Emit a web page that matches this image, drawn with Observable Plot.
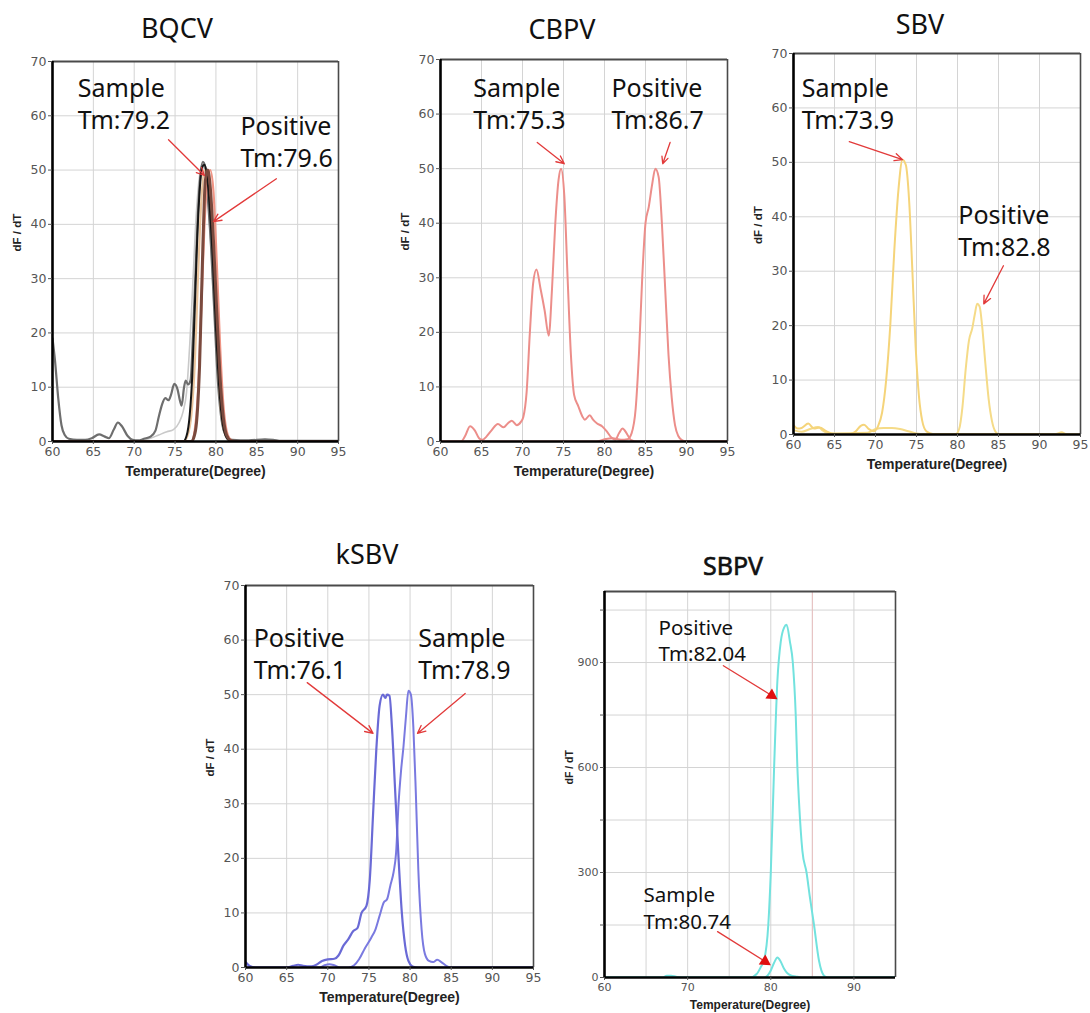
<!DOCTYPE html>
<html><head><meta charset="utf-8">
<script src="https://cdn.jsdelivr.net/npm/d3@7"></script>
<script src="https://cdn.jsdelivr.net/npm/@observablehq/plot@0.6"></script>
<style>
html,body{margin:0;padding:0;background:#fff}
#root{position:relative;width:1090px;height:1013px;overflow:hidden;background:#fff}
.panel{position:absolute}
.title{position:absolute;font-family:"Noto Sans",sans-serif;font-size:27px;color:#111;transform:translate(-50%,-50%);white-space:nowrap;line-height:1}
</style></head><body><div id="root"></div>
<script>
// ---------- tick labels ----------
const xTicks = [60, 65, 70, 75, 80, 85, 90, 95];
const xTicksSBPV = [60, 70, 80, 90];
const yTicks = [0, 10, 20, 30, 40, 50, 60, 70];
const yTicksSBPV = [0, 300, 600, 900];
const yMinorSBPV = [150, 450, 750, 1050];

// ---------- BQCV series [temperature, dF/dT] ----------
const bqcvDarkGray = [[60,19],[60.3,15],[60.7,8],[61.1,3],[61.5,1.2],[62,0.5],[63,0.3],[64,0.3],[64.8,0.6],[65.7,1.3],[66.4,0.9],[66.9,0.6],[67.5,2.2],[68,3.5],[68.5,2.8],[69.2,1],[69.8,0.3],[70.5,0.2],[71.2,0.5],[72,0.9],[72.6,2],[73,4.5],[73.4,6.8],[73.8,8],[74.2,7.6],[74.5,8.6],[74.9,10.6],[75.3,9.6],[75.6,7.5],[75.8,6.6],[76.1,10],[76.3,11.2],[76.6,10.5],[76.9,11.3],[77.2,20],[77.5,31],[77.8,42],[78.1,49],[78.4,51.5],[78.7,50.5],[79,45],[79.4,36],[79.8,24],[80.2,12],[80.6,5],[81,1.8],[81.5,0.6],[82,0.3],[84,0.2],[86,0.4],[87,0.3],[88,0.1],[95,0.1]];
const bqcvLightGray = [[60,0],[70,0],[71,0.2],[72,0.6],[73,1.2],[74,1.8],[74.8,2.2],[75.5,3.5],[76,5.6],[76.4,9],[76.8,18],[77.2,30],[77.6,42],[78,49],[78.3,51],[78.6,50],[79,45],[79.5,33],[80,18],[80.5,7],[81,2],[81.5,0.5],[82,0.1],[95,0]];
const bqcvBlack = [[60,0],[76,0],[76.4,1],[76.8,5],[77.1,12],[77.4,24],[77.7,37],[78,46],[78.3,50.5],[78.6,51],[78.9,49],[79.2,44],[79.6,34],[80,21],[80.4,10],[80.8,3.5],[81.2,1],[81.6,0.2],[82,0],[95,0]];
const bqcvTan = [[60,0],[76,0],[76.5,1],[77,5],[77.4,14],[77.8,30],[78.2,44],[78.6,50],[79,49],[79.4,42],[79.8,30],[80.2,16],[80.6,6],[81,2],[81.5,0.4],[82,0],[95,0]];
const bqcvSalmon = [[60,0],[77,0],[77.4,2],[77.8,9],[78.2,24],[78.6,40],[79,48.5],[79.3,50],[79.7,46],[80.1,33],[80.5,18],[80.9,7],[81.3,2],[81.7,0.5],[82.2,0],[95,0]];
const bqcvBrown = [[60,0],[77,0],[77.5,2],[78,14],[78.4,36],[78.7,48],[79,50],[79.3,47],[79.7,37],[80.1,24],[80.5,12],[80.9,4.5],[81.3,1.2],[81.8,0.2],[82.5,0],[95,0]];

// ---------- CBPV ----------
const cbpvSample = [[60,0],[62.5,0],[63,1],[63.6,2.8],[64.2,2],[64.7,0.6],[65.1,0.3],[65.6,0.9],[66.2,2],[67,3.2],[67.7,2.6],[68.2,3.3],[68.7,3.8],[69.3,3],[69.8,3.6],[70.1,4.5],[70.5,9],[70.9,20],[71.3,29],[71.7,31.5],[72.2,28],[72.7,24],[73.2,19.4],[73.6,28],[74,40],[74.4,48],[74.7,50],[75.1,45],[75.5,30],[75.9,16],[76.3,8.5],[76.8,6.5],[77.3,4.6],[77.6,4],[78.2,4.8],[78.6,4],[79.1,3.3],[79.7,2.8],[80.3,1.8],[80.8,0.8],[81.3,0.3],[81.8,1.6],[82.2,2.4],[82.7,1.5],[83.2,0.3],[84,0],[95,0]];
const cbpvPositive = [[60,0],[79,0],[80,0.4],[81,0.6],[82,0.3],[82.8,0.4],[83.3,1.5],[83.8,6],[84.2,16],[84.6,30],[85,40],[85.4,43],[85.8,47],[86.2,50],[86.6,48.5],[87,40],[87.4,28],[87.8,16],[88.2,8],[88.6,3],[89,1],[89.5,0.2],[90,0],[95,0]];

// ---------- SBV ----------
const sbvSample = [[60,1.7],[60.5,1.1],[61,1.2],[61.8,2],[62.5,1.1],[63.2,1.3],[64,0.6],[65,0.1],[67,0.1],[67.6,0.6],[68.2,1.6],[68.6,1.8],[69.2,1],[69.8,0.6],[70.3,1.5],[70.8,4],[71.3,10],[71.8,20],[72.3,34],[72.8,45],[73.3,50.5],[73.7,49.5],[74.1,43],[74.5,30],[74.9,16],[75.3,7],[75.7,2.5],[76.2,0.6],[77,0.1],[95,0]];
const sbvPositive = [[60,0.8],[61,0.5],[62,1],[63,1.4],[63.5,0.8],[64.5,0.2],[69,0.3],[70,1],[71,1.2],[72,1.2],[73,1],[74,0.6],[75,0.2],[76,0.1],[79.8,0.1],[80.2,1],[80.6,5],[81,12],[81.4,17.3],[81.8,19.5],[82.1,22],[82.4,24],[82.7,23.5],[83,20],[83.4,13],[83.8,6.5],[84.2,2.5],[84.6,0.6],[85,0.1],[92,0.1],[92.7,0.4],[93.2,0.1],[95,0]];

// ---------- kSBV ----------
const ksbvPositive = [[60,1],[60.5,0.3],[61.2,0],[65,0],[65.8,0.3],[66.4,0.5],[67,0.3],[68,0.2],[68.6,0.5],[69.3,1.2],[70,1.5],[70.8,1.6],[71.3,2.2],[71.9,4],[72.5,5.2],[73.1,6.7],[73.6,7.2],[74.1,10],[74.7,11.3],[75.1,16],[75.5,28],[75.9,40],[76.3,48],[76.7,50],[77,49.4],[77.2,50],[77.5,49.8],[77.8,44],[78.2,32],[78.6,20],[79,10],[79.4,4],[79.8,1.2],[80.3,0.2],[81,0],[95,0]];
const ksbvSample = [[60,0],[69,0],[69.6,0.4],[70.2,0.6],[70.8,0.4],[71.5,0],[72.5,0],[73.2,0.4],[73.8,1.5],[74.5,3.5],[75.3,5.5],[75.8,7],[76.3,9.5],[76.8,11.9],[77.2,12.5],[77.6,15],[78,17.5],[78.3,21],[78.6,30],[78.9,36],[79.2,40.5],[79.5,46],[79.8,50.7],[80.1,50],[80.4,44],[80.7,32],[81,18],[81.4,7],[81.8,2.5],[82.3,1.2],[82.8,1],[83.3,1.4],[83.8,1],[84.4,0.3],[85,0],[95,0]];

// ---------- SBPV ----------
const sbpvPositive = [[60,0],[67,0],[67.5,5],[68,5],[68.6,2],[69.2,0],[77.5,0],[78.3,10],[78.8,30],[79.2,50],[79.7,150],[80,300],[80.4,600],[80.8,850],[81.2,960],[81.6,1000],[81.9,1008],[82.3,960],[82.65,900],[83,750],[83.2,600],[83.4,500],[83.8,362],[84.3,300],[84.7,230],[85.2,150],[85.8,48],[86.4,5],[86.8,0],[95,0]];
const sbpvSample = [[60,0],[79.2,0],[79.6,5],[80,20],[80.4,42],[80.8,57],[81.2,45],[81.6,25],[82,12],[82.5,5],[83,3],[83.5,0.5],[84,0],[95,0]];

// ---------- annotations (data coordinates) ----------
const bqcvLabels = [{x:63.1,y:67.6,text:"Sample\nTm:79.2"},{x:83.0,y:60.6,text:"Positive\nTm:79.6"}];
const bqcvArrows = [{x1:74.2,y1:55.6,x2:78.6,y2:49.0},{x1:87.4,y1:48.4,x2:79.7,y2:40.5}];
const cbpvLabels = [{x:64.0,y:67.3,text:"Sample\nTm:75.3"},{x:80.85,y:67.3,text:"Positive\nTm:86.7"}];
const cbpvArrows = [{x1:71.8,y1:54.8,x2:75.1,y2:50.9},{x1:88.0,y1:54.8,x2:87.1,y2:50.9}];
const sbvLabels = [{x:61.0,y:66.2,text:"Sample\nTm:73.9"},{x:80.1,y:42.8,text:"Positive\nTm:82.8"}];
const sbvArrows = [{x1:66.8,y1:53.8,x2:73.3,y2:50.5},{x1:85.6,y1:31.0,x2:83.2,y2:24.0}];
const ksbvLabels = [{x:61.0,y:62.9,text:"Positive\nTm:76.1"},{x:81.0,y:62.9,text:"Sample\nTm:78.9"}];
const ksbvArrows = [{x1:67.5,y1:52.2,x2:75.5,y2:42.9},{x1:86.7,y1:50.2,x2:80.9,y2:42.9}];
const sbpvLabels = [{x:66.5,y:1034,text:"Positive\nTm:82.04"},{x:64.7,y:269,text:"Sample\nTm:80.74"}];
const sbpvArrows = [{x1:74.3,y1:891,x2:80.1,y2:806},{x1:73.6,y1:131,x2:79.3,y2:46}];

const titles = ["BQCV", "CBPV", "SBV", "kSBV", "SBPV"];
const xLabel = "Temperature(Degree)";
const yLabel = "dF / dT";

// ---------- panel layout ----------
const panels = [
  {title:titles[0], box:[52,338,61,441], tpos:[177,27], yMax:70, yT:yTicks, yG:[10,20,30,40,50,60], xT:xTicks,
   series:[[bqcvLightGray,"#c9c9c9",1.6],[bqcvDarkGray,"#6e6e6e",2.2],[bqcvSalmon,"#f09585",2.2],[bqcvTan,"#e8c29a",2.2],[bqcvBlack,"#161616",2],[bqcvBrown,"#7a4a3e",3]],
   labels:bqcvLabels, arrows:bqcvArrows, fs:25, lh:1.28},
  {title:titles[1], box:[440,727,59,441], tpos:[562,28], yMax:70, yT:yTicks, yG:[10,20,30,40,50,60], xT:xTicks,
   series:[[cbpvPositive,"#ec8e8a",2],[cbpvSample,"#ec8e8a",2]],
   labels:cbpvLabels, arrows:cbpvArrows, fs:25, lh:1.28},
  {title:titles[2], box:[793,1080,53,434], tpos:[920,23], yMax:70, yT:yTicks, yG:[10,20,30,40,50,60], xT:xTicks,
   series:[[sbvPositive,"#f5db88",2],[sbvSample,"#f5d47a",2]],
   labels:sbvLabels, arrows:sbvArrows, fs:25, lh:1.28},
  {title:titles[3], box:[245,533,585,967], tpos:[367,553], yMax:70, yT:yTicks, yG:[10,20,30,40,50,60], xT:xTicks,
   series:[[ksbvSample,"#7a7ae0",2],[ksbvPositive,"#6a6ad6",2.2]],
   labels:ksbvLabels, arrows:ksbvArrows, fs:25, lh:1.28},
  {title:titles[4], box:[604,895,591,977], tpos:[733,565], yMax:1103, yT:yTicksSBPV, yG:[150,300,450,600,750,900,1050], xT:xTicksSBPV, minor:yMinorSBPV, red85:true,
   series:[[sbpvPositive,"#72e2de",2],[sbpvSample,"#72e2de",2]],
   labels:sbpvLabels, arrows:sbpvArrows, fs:20.5, lh:1.3, small:true, tri:true}
];

const root = document.getElementById("root");
const mL = 60, mR = 12, mT = 12, mB = 45;

for (const p of panels) {
  const [l, r, t, b] = p.box;
  const xG = [65, 70, 75, 80, 85, 90];
  const marks = [
    Plot.gridX(xG, {stroke: "#d4d4d4", strokeOpacity: 1, strokeWidth: 1}),
    Plot.gridY(p.yG, {stroke: "#d4d4d4", strokeOpacity: 1, strokeWidth: 1}),
  ];
  if (p.red85) marks.push(Plot.ruleX([85], {stroke: "#e9c0c0", strokeWidth: 1}));
  for (const [data, color, w] of p.series) {
    marks.push(Plot.line(data, {x: d => d[0], y: d => d[1], curve: "monotone-x", stroke: color, strokeWidth: w, clip: true}));
  }
  // frame
  marks.push(Plot.ruleY([p.yMax], {stroke: "#4a4a4a", strokeWidth: 2}));
  marks.push(Plot.ruleX([95], {stroke: "#4a4a4a", strokeWidth: 1.6}));
  marks.push(Plot.ruleX([60], {stroke: "#000", strokeWidth: 2.6}));
  marks.push(Plot.ruleY([0], {stroke: "#000", strokeWidth: 2.6}));
  // axes
  marks.push(Plot.axisX(p.xT, {tickSize: 3, tickPadding: 3}));
  marks.push(Plot.axisY(p.yT, {tickSize: 4, tickPadding: 2}));
  if (p.minor) marks.push(Plot.axisY(p.minor, {tickSize: 4, tickFormat: () => ""}));
  marks.push(Plot.text([xLabel], {text: d => d, frameAnchor: "bottom", dy: p.small ? 31 : 34, fontFamily: "Liberation Sans, Arial, sans-serif", fontWeight: "bold", fontSize: p.small ? 12 : 14, fill: "#222"}));
  marks.push(Plot.text([yLabel], {text: d => d, frameAnchor: "left", dx: -35, rotate: -90, fontFamily: "Liberation Sans, Arial, sans-serif", fontWeight: "bold", fontSize: p.small ? 10.5 : 11.5, fill: "#222"}));
  // annotations
  marks.push(Plot.arrow(p.arrows, {x1: "x1", y1: "y1", x2: "x2", y2: "y2", stroke: "#e23a3a", strokeWidth: 1.3, headLength: p.tri ? 0 : 10, headAngle: 50}));
  if (p.tri) {
    marks.push(Plot.dot(p.arrows, {x: "x2", y: "y2", symbol: "triangle", r: 4.5, fill: "#e01010", stroke: "none", rotate: 123}));
  }
  marks.push(Plot.text(p.labels, {x: "x", y: "y", text: "text", textAnchor: "start", lineAnchor: "top", fontSize: p.fs, lineHeight: p.lh, fontFamily: "Noto Sans, sans-serif", fill: "#111"}));

  const chart = Plot.plot({
    width: (r - l) + mL + mR,
    height: (b - t) + mT + mB,
    marginLeft: mL, marginRight: mR, marginTop: mT, marginBottom: mB,
    x: {domain: [60, 95], axis: null},
    y: {domain: [0, p.yMax], axis: null},
    style: {fontFamily: "DejaVu Sans, sans-serif", fontSize: p.small ? "11px" : "12.5px", color: "#555", background: "transparent", overflow: "visible"},
    marks
  });
  chart.classList.add("panel");
  chart.style.left = (l - mL) + "px";
  chart.style.top = (t - mT) + "px";
  root.appendChild(chart);

  const tt = document.createElement("div");
  tt.className = "title";
  tt.textContent = p.title;
  tt.style.left = p.tpos[0] + "px";
  tt.style.top = p.tpos[1] + "px";
  if (p.small) { tt.style.fontSize = "25px"; tt.style.webkitTextStroke = "0.6px #111"; }
  root.appendChild(tt);
}
</script>
</body></html>
